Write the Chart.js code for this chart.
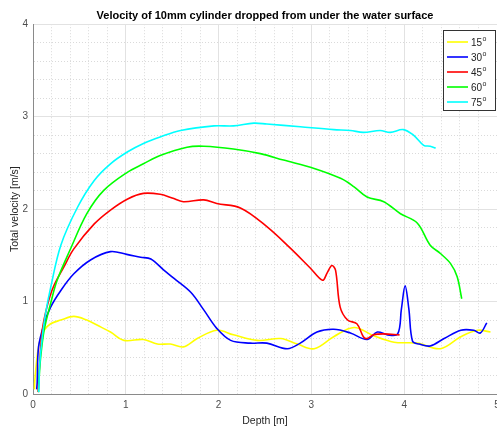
<!DOCTYPE html>
<html>
<head>
<meta charset="utf-8">
<script src="https://cdn.jsdelivr.net/npm/chart.js@4"></script>
<style>
  html, body { margin: 0; padding: 0; background: #fff; }
  #wrap { width: 497px; height: 427px; }
</style>
</head>
<body>
<div id="wrap"><canvas id="c" width="497" height="427"></canvas></div>
<script>
// angles of the cylinder drops, one series per angle
const angles = [15, 30, 45, 60, 75]
const colors = ['#ffff00', '#0000ff', '#ff0000', '#00ff00', '#00ffff']

// depth [m] / velocity [m/s]
const depth15 = [0.015, 0.02, 0.05, 0.08, 0.12, 0.19, 0.30, 0.44, 0.58, 0.70, 0.835, 0.98, 1.19, 1.34, 1.48, 1.62, 1.77, 1.98, 2.16, 2.42, 2.67, 2.85, 3.03, 3.24, 3.46, 3.67, 3.89, 4.14, 4.39, 4.61, 4.79, 4.93]
const vel15 = [0.05, 0.15, 0.45, 0.60, 0.69, 0.76, 0.80, 0.84, 0.80, 0.74, 0.67, 0.58, 0.59, 0.54, 0.54, 0.51, 0.60, 0.69, 0.64, 0.58, 0.60, 0.54, 0.49, 0.62, 0.72, 0.63, 0.56, 0.55, 0.49, 0.62, 0.69, 0.67]

const depth30 = [0.04, 0.045, 0.06, 0.12, 0.19, 0.30, 0.44, 0.62, 0.835, 1.01, 1.16, 1.27, 1.41, 1.52, 1.70, 1.84, 1.98, 2.13, 2.34, 2.52, 2.74, 2.88, 3.06, 3.24, 3.42, 3.60, 3.71, 3.82, 3.93, 3.97, 4.01, 4.05, 4.09, 4.16, 4.28, 4.43, 4.61, 4.75, 4.82, 4.89]
const vel30 = [0.05, 0.12, 0.51, 0.76, 0.94, 1.12, 1.30, 1.45, 1.54, 1.51, 1.48, 1.46, 1.34, 1.25, 1.10, 0.91, 0.71, 0.58, 0.55, 0.55, 0.49, 0.55, 0.67, 0.70, 0.66, 0.59, 0.67, 0.64, 0.65, 0.92, 1.17, 0.92, 0.57, 0.54, 0.52, 0.60, 0.69, 0.69, 0.66, 0.77]

const depth45 = [0.055, 0.06, 0.07, 0.10, 0.15, 0.22, 0.33, 0.44, 0.66, 0.835, 1.02, 1.19, 1.37, 1.50, 1.62, 1.84, 1.98, 2.24, 2.52, 2.77, 2.99, 3.12, 3.17, 3.22, 3.26, 3.31, 3.39, 3.49, 3.56, 3.60, 3.67, 3.78, 3.95]
const vel45 = [0.02, 0.12, 0.3, 0.69, 0.94, 1.16, 1.37, 1.57, 1.84, 1.99, 2.11, 2.17, 2.16, 2.12, 2.08, 2.10, 2.06, 2.01, 1.81, 1.58, 1.36, 1.23, 1.31, 1.39, 1.34, 0.94, 0.80, 0.76, 0.62, 0.60, 0.64, 0.65, 0.64]

const depth60 = [0.06, 0.065, 0.08, 0.12, 0.19, 0.26, 0.40, 0.58, 0.76, 1.02, 1.19, 1.37, 1.66, 1.84, 2.16, 2.45, 2.70, 3.03, 3.32, 3.46, 3.60, 3.78, 3.96, 4.14, 4.28, 4.39, 4.50, 4.57, 4.62]
const vel60 = [0.02, 0.15, 0.37, 0.69, 0.98, 1.23, 1.56, 1.95, 2.20, 2.40, 2.49, 2.58, 2.67, 2.68, 2.65, 2.60, 2.53, 2.44, 2.33, 2.24, 2.13, 2.08, 1.95, 1.85, 1.61, 1.52, 1.41, 1.27, 1.03]

const depth75 = [0.06, 0.065, 0.07, 0.10, 0.135, 0.19, 0.30, 0.48, 0.66, 0.835, 1.02, 1.19, 1.37, 1.59, 1.95, 2.16, 2.38, 2.52, 2.88, 3.24, 3.42, 3.56, 3.74, 3.85, 3.99, 4.10, 4.21, 4.28, 4.34]
const vel75 = [0.02, 0.12, 0.29, 0.62, 0.87, 1.15, 1.61, 2.02, 2.31, 2.49, 2.62, 2.71, 2.78, 2.85, 2.90, 2.90, 2.93, 2.92, 2.89, 2.86, 2.85, 2.83, 2.85, 2.83, 2.86, 2.80, 2.69, 2.68, 2.66]

const xTicks = [0, 1, 2, 3, 4, 5]
const yTicks = [0, 1, 2, 3, 4]

const depths = [depth15, depth30, depth45, depth60, depth75]
const vels = [vel15, vel30, vel45, vel60, vel75]

const FONT = '"Liberation Sans", Arial, Helvetica, sans-serif'

const isMajor = (ctx) => ctx.tick && Math.abs(ctx.tick.value - Math.round(ctx.tick.value)) < 1e-6

const datasets = angles.map((a, i) => ({
    label: a + '°',
    data: depths[i].map((d, j) => ({ x: d, y: vels[i][j] })),
    borderColor: colors[i],
    borderWidth: 1.6,
    pointRadius: 0,
    showLine: true,
    fill: false,
    tension: 0.35,
    order: angles.length - i
}))

// MATLAB style boxed legend with superscript degree 'o'
const boxLegend = {
    id: 'boxLegend',
    afterDraw(chart) {
        const ctx = chart.ctx
        const x0 = 443.5, y0 = 30.5, w = 52, h = 80
        ctx.save()
        ctx.fillStyle = '#fff'
        ctx.fillRect(x0, y0, w, h)
        ctx.strokeStyle = '#333'
        ctx.lineWidth = 1
        ctx.strokeRect(x0, y0, w, h)
        chart.data.datasets.forEach((ds, i) => {
            const y = 42 + i * 15
            ctx.strokeStyle = ds.borderColor
            ctx.lineWidth = 1.6
            ctx.beginPath()
            ctx.moveTo(447, y)
            ctx.lineTo(468, y)
            ctx.stroke()
            ctx.fillStyle = '#222'
            ctx.font = '10px ' + FONT
            ctx.textBaseline = 'middle'
            const num = String(angles[i])
            ctx.fillText(num, 471, y + 1)
            const tw = ctx.measureText(num).width
            ctx.font = '7px ' + FONT
            ctx.fillText('o', 471 + tw + 0.5, y - 3)
        })
        ctx.restore()
    }
}

const chart = new Chart(document.getElementById('c'), {
    type: 'scatter',
    data: { datasets },
    options: {
        responsive: false,
        animation: false,
        layout: { padding: { left: 0, right: 0, top: 0, bottom: 0 } },
        plugins: {
            legend: { display: false },
            tooltip: { enabled: false },
            title: {
                display: true,
                fullSize: false,
                text: 'Velocity of 10mm cylinder dropped from under the water surface',
                color: '#000',
                font: { family: FONT, size: 11, weight: 'bold' },
                padding: { top: 9, bottom: 2 }
            }
        },
        scales: {
            x: {
                type: 'linear',
                min: xTicks[0],
                max: xTicks[xTicks.length - 1],
                afterFit(s) { s.height = 33; s.paddingLeft = 0; s.paddingRight = 0 },
                ticks: {
                    stepSize: 0.2,
                    autoSkip: false,
                    maxRotation: 0,
                    color: '#4d4d4d',
                    font: { family: FONT, size: 10 },
                    padding: 5,
                    callback: (v) => xTicks.some(t => Math.abs(t - v) < 1e-6) ? String(Math.round(v)) : ''
                },
                grid: {
                    color: (ctx) => isMajor(ctx) ? '#e2e2e2' : '#dadada',
                    lineWidth: 1,
                    drawTicks: false
                },
                border: {
                    color: '#8a8a8a',
                    width: 1,
                    dash: (ctx) => ctx.tick && !isMajor(ctx) ? [1, 2] : []
                },
                title: {
                    display: true,
                    text: 'Depth [m]',
                    color: '#262626',
                    font: { family: FONT, size: 10.5 },
                    padding: { top: 1, bottom: 0 }
                }
            },
            y: {
                type: 'linear',
                min: yTicks[0],
                max: yTicks[yTicks.length - 1],
                afterFit(s) { s.width = 33; s.paddingTop = 0; s.paddingBottom = 0 },
                ticks: {
                    stepSize: 0.2,
                    autoSkip: false,
                    color: '#4d4d4d',
                    font: { family: FONT, size: 10 },
                    padding: 5,
                    callback: (v) => yTicks.some(t => Math.abs(t - v) < 1e-6) ? String(Math.round(v)) : ''
                },
                grid: {
                    color: (ctx) => isMajor(ctx) ? '#e2e2e2' : '#dadada',
                    lineWidth: 1,
                    drawTicks: false
                },
                border: {
                    color: '#8a8a8a',
                    width: 1,
                    dash: (ctx) => ctx.tick && !isMajor(ctx) ? [1, 2] : []
                },
                title: {
                    display: true,
                    text: 'Total velocity [m/s]',
                    color: '#262626',
                    font: { family: FONT, size: 10.5 },
                    padding: { top: 9, bottom: 0 }
                }
            }
        }
    },
    plugins: [boxLegend]
})
</script>
</body>
</html>
